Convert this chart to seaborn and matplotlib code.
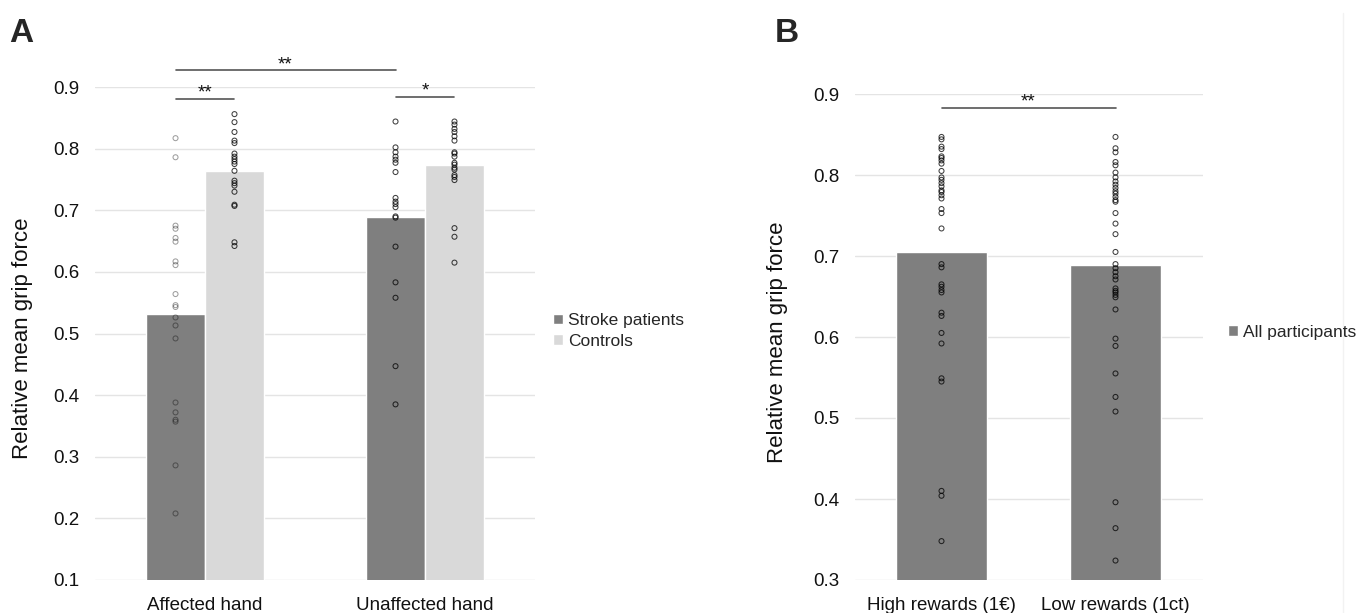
import numpy as np
import pandas as pd
import matplotlib.pyplot as plt
from matplotlib.lines import Line2D
import seaborn as sns

# -------------------------------
# DATA
# -------------------------------
hands = ['Affected hand', 'Unaffected hand']
groups = ['Stroke patients', 'Controls']
mean_stroke = [0.531, 0.689]
mean_controls = [0.764, 0.773]

affected_stroke = [0.817, 0.786, 0.675, 0.670, 0.655, 0.649, 0.617, 0.611, 0.564, 0.546,
                   0.543, 0.526, 0.513, 0.492, 0.388, 0.372, 0.360, 0.357, 0.286, 0.208]
affected_controls = [0.856, 0.843, 0.827, 0.813, 0.809, 0.792, 0.787, 0.783, 0.779, 0.775,
                     0.764, 0.748, 0.744, 0.740, 0.730, 0.709, 0.707, 0.648, 0.642]
unaffected_stroke = [0.844, 0.802, 0.794, 0.787, 0.782, 0.777, 0.762, 0.720, 0.714, 0.710,
                     0.705, 0.690, 0.688, 0.641, 0.583, 0.558, 0.447, 0.385]
unaffected_controls = [0.844, 0.839, 0.832, 0.827, 0.820, 0.813, 0.794, 0.792, 0.787, 0.777,
                       0.774, 0.769, 0.766, 0.757, 0.754, 0.749, 0.671, 0.657, 0.615]

rewards = ['High rewards (1€)', 'Low rewards (1ct)']
mean_rewards = [0.705, 0.689]
high_rewards = [0.847, 0.844, 0.835, 0.832, 0.823, 0.821, 0.818, 0.814, 0.805, 0.797,
                0.794, 0.790, 0.786, 0.781, 0.779, 0.775, 0.771, 0.758, 0.753, 0.734,
                0.690, 0.686, 0.665, 0.662, 0.658, 0.655, 0.630, 0.626, 0.605, 0.592,
                0.549, 0.545, 0.410, 0.404, 0.348]
low_rewards = [0.847, 0.833, 0.828, 0.816, 0.812, 0.803, 0.797, 0.792, 0.788, 0.784,
               0.780, 0.777, 0.773, 0.769, 0.767, 0.753, 0.740, 0.727, 0.705, 0.690,
               0.685, 0.680, 0.675, 0.671, 0.660, 0.657, 0.655, 0.652, 0.649, 0.634,
               0.598, 0.589, 0.555, 0.526, 0.508, 0.396, 0.364, 0.324]

# -------------------------------
# STYLE
# -------------------------------
sns.set_style('white')
plt.rcParams['font.family'] = ['Liberation Sans', 'DejaVu Sans']

W, H = 1368, 613
fig = plt.figure(figsize=(W / 100, H / 100), dpi=100)
axA = fig.add_axes([95 / W, 33 / H, 440 / W, 493 / H])
axB = fig.add_axes([854.5 / W, 33 / H, 348 / W, 486 / H])

dark, light = '#7f7f7f', '#d9d9d9'
line_col = '#555555'


def style_axis(ax, ymin, ymax):
    ax.set_ylim(ymin, ymax)
    ticks = np.round(np.arange(ymin, ymax + 1e-6, 0.1), 1)
    ax.set_yticks(ticks)
    ax.set_yticklabels([f'{t:.1f}' for t in ticks])
    ax.yaxis.grid(True, color='#e4e4e4', lw=1)
    ax.set_axisbelow(True)
    ax.tick_params(axis='both', length=0, labelsize=13.5, colors='#111111')
    ax.tick_params(axis='y', pad=11)
    ax.tick_params(axis='x', pad=12)
    ax.set_xlim(-0.5, 1.5)
    ax.set_xlabel('')
    ax.set_ylabel('Relative mean grip force', fontsize=16, color='#111111')
    sns.despine(ax=ax, left=True, bottom=True)


def bracket(ax, x1, x2, y, label):
    ax.plot([x1, x2], [y, y], color=line_col, lw=1.2, clip_on=False, zorder=4)
    ax.text((x1 + x2) / 2, y + 0.002, label, ha='center', va='baseline',
            fontsize=13.5, color='#111111', clip_on=False)


# -------------------------------
# PANEL A
# -------------------------------
dfA = pd.DataFrame({
    'hand': hands * 2,
    'group': [groups[0]] * 2 + [groups[1]] * 2,
    'force': mean_stroke + mean_controls,
})
sns.barplot(data=dfA, x='hand', y='force', hue='group', hue_order=groups,
            palette=[dark, light], width=0.536, saturation=1, errorbar=None,
            ax=axA, zorder=2)

points_A = {(0, 0): affected_stroke, (0, 1): affected_controls,
            (1, 0): unaffected_stroke, (1, 1): unaffected_controls}
centers = {}
for (h, g), vals in points_A.items():
    bar = axA.containers[g][h]
    cx = bar.get_x() + bar.get_width() / 2
    centers[(h, g)] = cx
    edge = (0, 0, 0, 0.38) if (h, g) == (0, 0) else (0, 0, 0, 0.75)
    axA.scatter(np.full(len(vals), cx), vals, s=13, facecolors='none',
                edgecolors=[edge], linewidths=0.75, zorder=3)

style_axis(axA, 0.1, 0.9)

bracket(axA, centers[(0, 0)], centers[(1, 0)], 0.927, '**')
bracket(axA, centers[(0, 0)], centers[(0, 1)], 0.881, '**')
bracket(axA, centers[(1, 0)], centers[(1, 1)], 0.884, '*')

axA.legend(loc='center left', bbox_to_anchor=(553 / W, 1 - 331 / H),
           bbox_transform=fig.transFigure, frameon=False, fontsize=12.5,
           handlelength=0.55, handleheight=0.55, handletextpad=0.3,
           labelspacing=0.3, borderpad=0, borderaxespad=0)

# -------------------------------
# PANEL B
# -------------------------------
dfB_bars = pd.DataFrame({'reward': rewards, 'force': mean_rewards,
                         'who': ['All participants'] * 2})
sns.barplot(data=dfB_bars, x='reward', y='force', hue='who', palette=[dark],
            width=0.523, saturation=1, errorbar=None, ax=axB, zorder=2)

dfB_pts = pd.DataFrame({
    'reward': [rewards[0]] * len(high_rewards) + [rewards[1]] * len(low_rewards),
    'force': high_rewards + low_rewards,
})
sns.stripplot(data=dfB_pts, x='reward', y='force', order=rewards, jitter=False,
              size=3.6, linewidth=0.75, color='k', ax=axB, zorder=3)
for coll in axB.collections:
    coll.set_facecolor('none')
    coll.set_edgecolor((0, 0, 0, 0.75))

style_axis(axB, 0.3, 0.9)

bx = [b.get_x() + b.get_width() / 2 for b in axB.containers[0]]
bracket(axB, bx[0], bx[1], 0.883, '**')

axB.legend(loc='center left', bbox_to_anchor=(1228 / W, 1 - 332 / H),
           bbox_transform=fig.transFigure, frameon=False, fontsize=12.5,
           handlelength=0.55, handleheight=0.55, handletextpad=0.3,
           borderpad=0, borderaxespad=0)

# ylabel positions
axA.yaxis.set_label_coords((33 - 95) / 440, 0.49)
axB.yaxis.set_label_coords((788 - 854.5) / 348, 0.49)

# panel letters and faint right border
fig.text(9 / W, 1 - 18 / H, 'A', fontsize=24, fontweight='bold', va='top')
fig.text(775 / W, 1 - 18 / H, 'B', fontsize=24, fontweight='bold', va='top')
fig.add_artist(Line2D([1343 / W] * 2, [0, 1 - 13 / H], color='#f2f2f2', lw=1,
                      transform=fig.transFigure, zorder=0))

fig.savefig('out.png', dpi=100)
